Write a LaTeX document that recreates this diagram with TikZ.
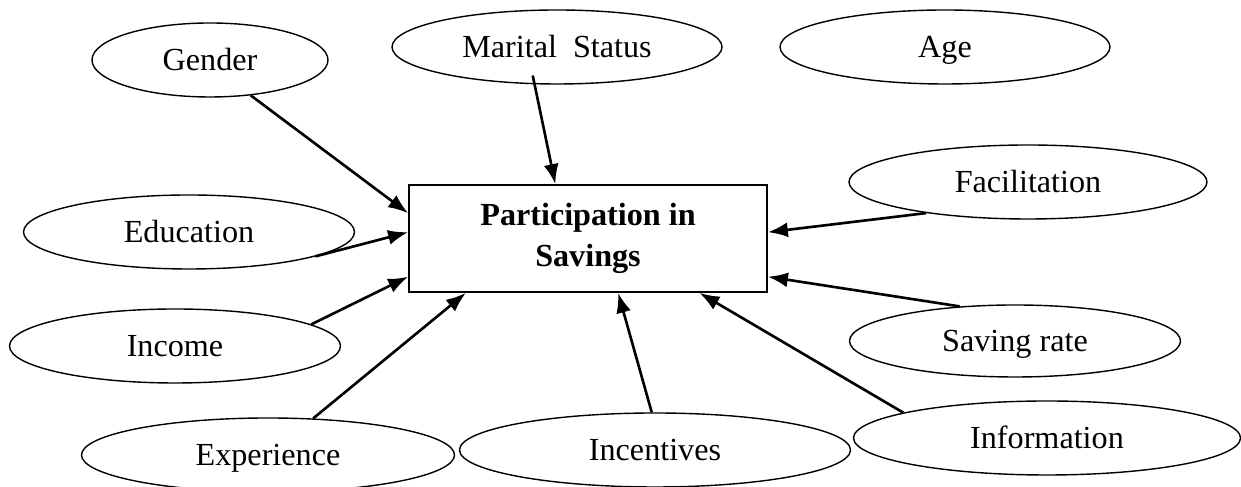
\documentclass[tikz,border=0pt]{standalone}
\usepackage{fontspec}
\setmainfont{Liberation Serif}
\usetikzlibrary{shapes.geometric,arrows.meta}
\tikzset{>={Latex[length=4mm,width=3mm]}}

\begin{document}
\begin{tikzpicture}[font=\fontsize{18.3}{22}\selectfont]
\useasboundingbox (0,0) rectangle (24.82,9.74);

% outcome box
\node (box) at (11.76,4.97) [draw,line width=1pt,rectangle,minimum width=7.16cm,
    minimum height=2.14cm,inner sep=0pt,align=center,font=\fontsize{18.3}{23.5}\selectfont\bfseries]
    {Participation in\\Savings};

\begin{scope}[every node/.style={ellipse,draw,line width=0.8pt,inner sep=0pt,
    text height=12.1pt,text depth=0pt,minimum height=1.48cm}]
\node (gender) at (4.20,8.54) [minimum width=4.72cm] {Gender};
\node (marital) at (11.14,8.80) [minimum width=6.60cm] {Marital\ \ Status};
\node (age) at (18.90,8.80) [minimum width=6.60cm] {Age};
\node (facil) at (20.56,6.10) [minimum width=7.16cm] {Facilitation};
\node (edu) at (3.78,5.10) [minimum width=6.62cm] {Education};
\node (income) at (3.50,2.82) [minimum width=6.62cm] {Income};
\node (saving) at (20.30,2.92) [minimum width=6.62cm,minimum height=1.44cm] {Saving rate};
\node (exper) at (5.36,0.64) [minimum width=7.46cm] {Experience};
\node (incent) at (13.10,0.74) [minimum width=7.82cm] {Incentives};
\node (info) at (20.94,0.98) [minimum width=7.74cm] {Information};
\end{scope}

\begin{scope}[every edge/.style={draw=black,line width=1.5pt,->}]
    \path (gender.-41) edge (box.172);
    \path (edu.-10) edge [shorten <=-0.1cm] (box.178);
    \path (income.9.5) edge (box.192);
    \path (exper.39) edge (box.204.4);

    \path (marital.239) edge [shorten <=-0.18cm] (box.121);
    \path (incent.95) edge (box.-61.5);

    \path (info.170) edge (box.-26);
    \path (saving.148) edge (box.-12);
    \path (facil.197) edge (box.2.7);
\end{scope}
\end{tikzpicture}
\end{document}
